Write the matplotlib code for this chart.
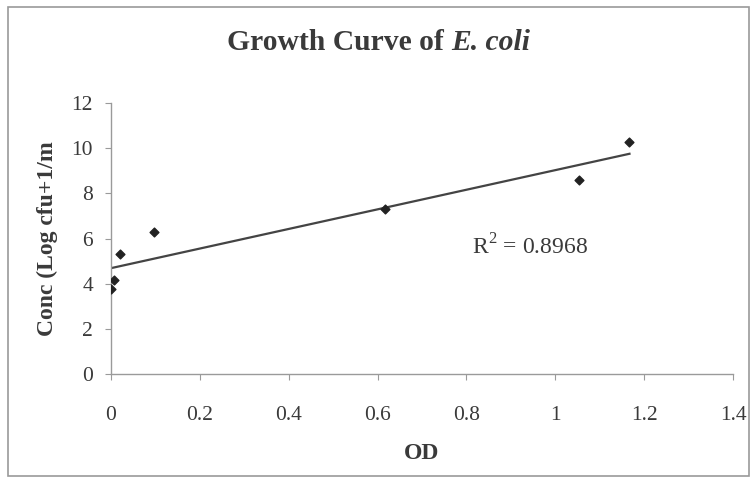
import numpy as np
import matplotlib
matplotlib.use("Agg")
import matplotlib.pyplot as plt
from matplotlib.patches import Rectangle

# Data
od = [0.0, 0.007, 0.02, 0.096, 0.616, 1.053, 1.167]
conc = [3.75, 4.15, 5.31, 6.27, 7.29, 8.60, 10.28]
x_ticks = [0, 0.2, 0.4, 0.6, 0.8, 1, 1.2, 1.4]
x_tick_labels = ["0", "0.2", "0.4", "0.6", "0.8", "1", "1.2", "1.4"]
y_ticks = [0, 2, 4, 6, 8, 10, 12]
r2_label = "R$^2$ = 0.8968"

TXT = "#3a3a3a"
plt.rcParams["font.family"] = ["Liberation Serif", "DejaVu Serif"]
plt.rcParams["mathtext.fontset"] = "custom"
plt.rcParams["mathtext.rm"] = "Liberation Serif"

fig = plt.figure(figsize=(7.52, 4.79), dpi=100)
W, H = 752, 479
ax = fig.add_axes([111 / W, 1 - 374 / H, (733 - 111) / W, (374 - 103) / H])

ax.scatter(od, conc, marker="D", s=20, color="#222222", zorder=3)
coef = np.polyfit(od, conc, 1)
xs = np.array([min(od), max(od)])
ax.plot(xs, np.polyval(coef, xs), color="#444444", lw=1.6, zorder=2)

ax.set_xlim(0, 1.4)
ax.set_ylim(0, 12)
ax.set_xticks(x_ticks)
ax.set_xticklabels(x_tick_labels)
ax.set_yticks(y_ticks)
for s in ["top", "right"]:
    ax.spines[s].set_visible(False)
for s in ["left", "bottom"]:
    ax.spines[s].set_color("#9a9a9a")
    ax.spines[s].set_linewidth(1.0)
ax.tick_params(axis="both", direction="out", length=4, color="#9a9a9a",
               labelsize=15.5, labelcolor=TXT)
ax.tick_params(axis="x", pad=19)
ax.tick_params(axis="y", pad=9)

ax.set_xlabel("OD", fontsize=17, fontweight="bold", color=TXT, labelpad=13)
ax.set_ylabel("Conc (Log cfu+1/m", fontsize=17, fontweight="bold", color=TXT, labelpad=10)

ax.text(0.943, 5.62, r2_label, fontsize=17, color=TXT, ha="center", va="center")

# Title: bold, with italic species name
fig.canvas.draw()
r = fig.canvas.get_renderer()
t1 = fig.text(0, 0, "Growth Curve of ", fontsize=21.3, fontweight="bold", color=TXT)
t2 = fig.text(0, 0, "E. coli", fontsize=21.3, fontweight="bold", style="italic", color=TXT)
w1 = t1.get_window_extent(r).width
w2 = t2.get_window_extent(r).width
x0 = 379 - (w1 + w2) / 2
ybase = 1 - 50 / H
t1.set_position((x0 / W, ybase))
t2.set_position(((x0 + w1) / W, ybase))

# Chart border
fig.patches.append(Rectangle((8 / W, 1 - 476 / H), (749 - 8) / W, (476 - 7) / H,
                             transform=fig.transFigure, fill=False,
                             edgecolor="#9a9a9a", lw=1.2))

fig.savefig("out.png", dpi=100)
